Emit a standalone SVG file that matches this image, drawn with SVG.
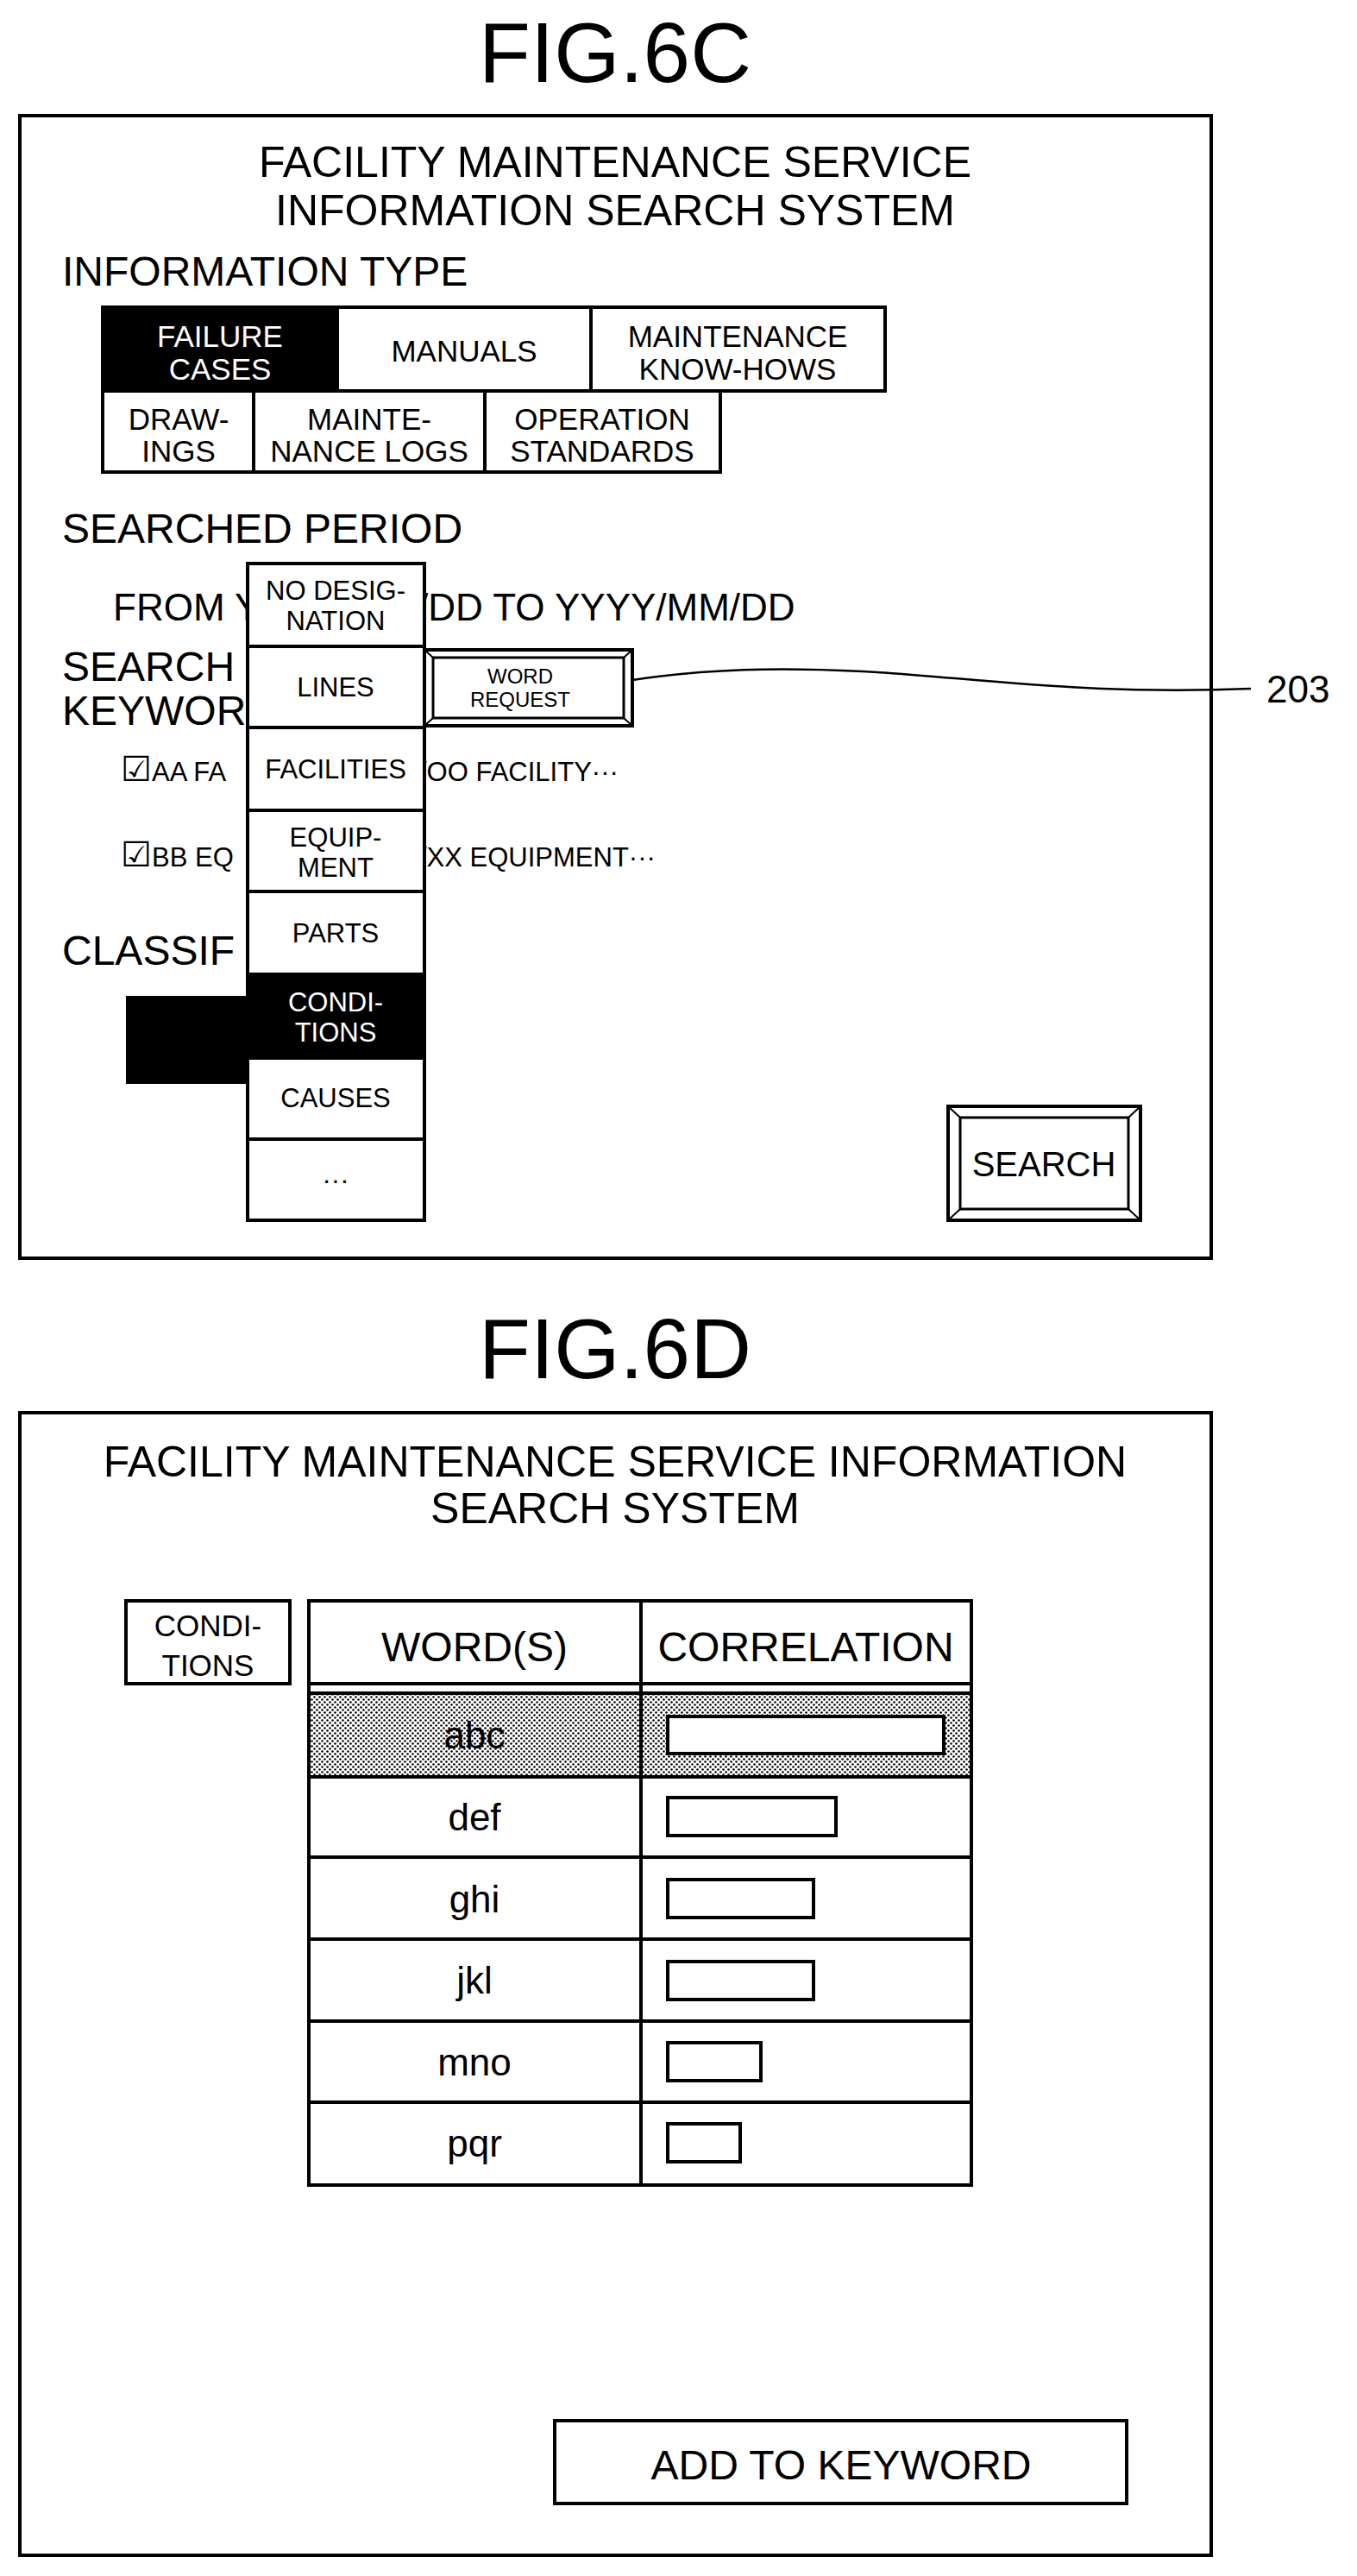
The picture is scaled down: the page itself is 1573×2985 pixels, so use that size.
<svg xmlns="http://www.w3.org/2000/svg" width="1573" height="2985" viewBox="0 0 1573 2985">
<defs>
<style>
text{font-family:"Liberation Sans",Arial,sans-serif;fill:#000}
.b{fill:#fff;stroke:#000;stroke-width:4}
.k{fill:#000;stroke:#000;stroke-width:4}
.c{text-anchor:middle}
.w{fill:#fff}
.t50{font-size:50px}.t48{font-size:48px}.t44{font-size:44px}.t36{font-size:35px}.t32{font-size:31px}.t24{font-size:24px}
</style>
<pattern id="dots" width="6" height="6" patternUnits="userSpaceOnUse">
<rect width="6" height="6" fill="#fff"/><circle cx="1.5" cy="1.5" r="1.3" fill="#000"/><circle cx="4.5" cy="4.5" r="1.3" fill="#000"/>
</pattern>
</defs>
<rect width="1573" height="2985" fill="#fff"/>
<g id="fig6c">
<text x="713" y="95" class="c" font-size="98">FIG.6C</text>
<rect x="23" y="134" width="1381" height="1324" class="b"/>
<text x="713" y="205" class="c t50">FACILITY MAINTENANCE SERVICE</text>
<text x="713" y="261" class="c t50">INFORMATION SEARCH SYSTEM</text>
<text x="72" y="331" class="t48">INFORMATION TYPE</text>
<g id="tabs">
<rect x="119" y="356" width="272" height="97" class="k"/>
<rect x="391" y="356" width="294" height="97" class="b"/>
<rect x="685" y="356" width="341" height="97" class="b"/>
<rect x="119" y="453" width="175" height="94" class="b"/>
<rect x="294" y="453" width="268" height="94" class="b"/>
<rect x="562" y="453" width="273" height="94" class="b"/>
<text x="255" y="402" class="c t36 w">FAILURE</text><text x="255" y="440" class="c t36 w">CASES</text>
<text x="538" y="419" class="c t36">MANUALS</text>
<text x="855" y="402" class="c t36">MAINTENANCE</text><text x="855" y="440" class="c t36">KNOW-HOWS</text>
<text x="207" y="498" class="c t36">DRAW-</text><text x="207" y="535" class="c t36">INGS</text>
<text x="428" y="498" class="c t36">MAINTE-</text><text x="428" y="535" class="c t36">NANCE LOGS</text>
<text x="698" y="498" class="c t36">OPERATION</text><text x="698" y="535" class="c t36">STANDARDS</text>
</g>
<text x="72" y="629" class="t48">SEARCHED PERIOD</text>
<text x="131" y="719" class="t44">FROM Y</text>
<text x="484" y="719" class="t44">/DD TO YYYY/MM/DD</text>
<text x="72" y="789" class="t48">SEARCH</text>
<text x="72" y="840" class="t48">KEYWOR</text>
<text x="140" y="905" class="t32"><tspan font-size="40">☑</tspan>AA FA</text>
<text x="486" y="905" class="t32">/OO FACILITY···</text>
<text x="140" y="1004" class="t32"><tspan font-size="40">☑</tspan>BB EQ</text>
<text x="486" y="1004" class="t32">/XX EQUIPMENT···</text>
<text x="72" y="1118" class="t48">CLASSIF</text>
<rect x="148" y="1156" width="150" height="98" class="k"/>
<g id="dropdown">
<rect x="287" y="653" width="205" height="96" class="b"/>
<rect x="287" y="749" width="205" height="94" class="b"/>
<rect x="287" y="843" width="205" height="96" class="b"/>
<rect x="287" y="939" width="205" height="94" class="b"/>
<rect x="287" y="1033" width="205" height="96" class="b"/>
<rect x="287" y="1129" width="205" height="97" class="k"/>
<rect x="287" y="1226" width="205" height="94" class="b"/>
<rect x="287" y="1320" width="205" height="94" class="b"/>
<text x="389" y="695" class="c t32">NO DESIG-</text><text x="389" y="730" class="c t32">NATION</text>
<text x="389" y="807" class="c t32">LINES</text>
<text x="389" y="902" class="c t32">FACILITIES</text>
<text x="389" y="981" class="c t32">EQUIP-</text><text x="389" y="1016" class="c t32">MENT</text>
<text x="389" y="1092" class="c t32">PARTS</text>
<text x="389" y="1172" class="c t32 w">CONDI-</text><text x="389" y="1207" class="c t32 w">TIONS</text>
<text x="389" y="1283" class="c t32">CAUSES</text>
<text x="389" y="1378" class="c t32">···</text>
</g>
<g id="wordrequest">
<rect x="492" y="753" width="241" height="88" class="b"/>
<rect x="502" y="762" width="221" height="70" fill="none" stroke="#000" stroke-width="3"/>
<path d="M492 753L502 762M733 753L723 762M492 841L502 832M733 841L723 832" stroke="#000" stroke-width="2"/>
<text x="603" y="792" class="c t24">WORD</text><text x="603" y="819" class="c t24">REQUEST</text>
</g>
<g id="search">
<rect x="1099" y="1282" width="223" height="132" class="b"/>
<rect x="1113" y="1295" width="195" height="106" fill="none" stroke="#000" stroke-width="3"/>
<path d="M1099 1282L1113 1295M1322 1282L1308 1295M1099 1414L1113 1401M1322 1414L1308 1401" stroke="#000" stroke-width="2"/>
<text x="1210" y="1363" class="c" font-size="40">SEARCH</text>
</g>
</g>
<g id="connectors">
<path d="M733 788C820 775 900 773 1000 778C1120 784 1250 806 1450 798" fill="none" stroke="#000" stroke-width="2.5"/>
</g>
<text x="1468" y="814" class="t44">203</text>
<g id="fig6d">
<text x="713" y="1597" class="c" font-size="98">FIG.6D</text>
<rect x="23" y="1637" width="1381" height="1324" class="b"/>
<text x="713" y="1711" class="c t50">FACILITY MAINTENANCE SERVICE INFORMATION</text>
<text x="713" y="1765" class="c t50">SEARCH SYSTEM</text>
<rect x="146" y="1855" width="190" height="96" class="b"/>
<text x="241" y="1896" class="c t36">CONDI-</text><text x="241" y="1942" class="c t36">TIONS</text>
<g id="table">
<rect x="358" y="1962" width="768" height="97" fill="url(#dots)"/>
<rect x="358" y="1855" width="768" height="677" fill="none" stroke="#000" stroke-width="4"/>
<path d="M743 1855V2532M358 1951H1126M358 1962H1126M358 2059H1126M358 2152H1126M358 2247H1126M358 2342H1126M358 2436H1126" stroke="#000" stroke-width="4"/>
<text x="550" y="1925" class="c t48">WORD(S)</text>
<text x="934" y="1925" class="c t48">CORRELATION</text>
<text x="550" y="2026" class="c t44">abc</text>
<text x="550" y="2121" class="c t44">def</text>
<text x="550" y="2216" class="c t44">ghi</text>
<text x="550" y="2310" class="c t44">jkl</text>
<text x="550" y="2405" class="c t44">mno</text>
<text x="550" y="2499" class="c t44">pqr</text>
<rect x="774" y="1989" width="320" height="43" class="b"/>
<rect x="774" y="2083" width="195" height="44" class="b"/>
<rect x="774" y="2178" width="169" height="44" class="b"/>
<rect x="774" y="2273" width="169" height="44" class="b"/>
<rect x="774" y="2367" width="108" height="44" class="b"/>
<rect x="774" y="2461" width="84" height="44" class="b"/>
</g>
<rect x="643" y="2805" width="663" height="96" class="b"/>
<text x="975" y="2873" class="c t48">ADD TO KEYWORD</text>
</g>
</svg>
